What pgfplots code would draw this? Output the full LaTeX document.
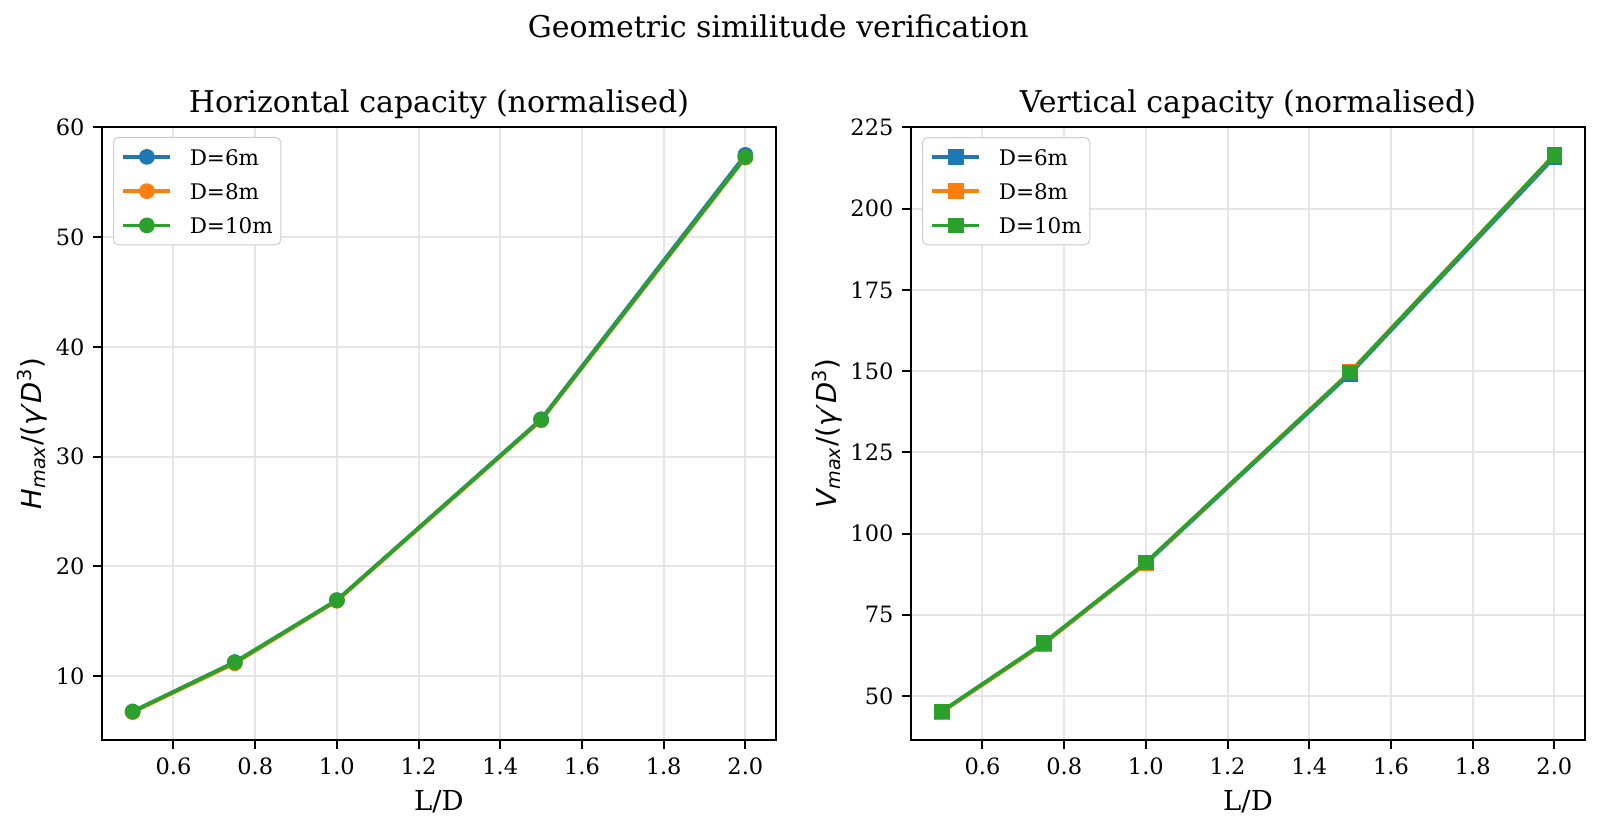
\documentclass[border=0pt]{standalone}
\usepackage{fontspec}
\setmainfont{DejaVu Serif}
\newfontfamily\dvs{DejaVu Sans}
\usepackage{pgfplots}
\pgfplotsset{compat=1.18}
\definecolor{c0}{HTML}{1F77B4}
\definecolor{c1}{HTML}{FF7F0E}
\definecolor{c2}{HTML}{2CA02C}

\pgfplotsset{
  every axis title/.style={at={(0.5,1)}, anchor=base, yshift=5.8pt, font=\fontsize{12}{14}\selectfont},
  myaxis/.style={
    scale only axis, width=269.6pt, height=245.2pt,
    anchor=south west,
    xmin=0.425, xmax=2.075,
    xtick={0.6,0.8,1.0,1.2,1.4,1.6,1.8,2.0},
    xticklabels={0.6,0.8,1.0,1.2,1.4,1.6,1.8,2.0},
    tick align=outside, major tick length=3.5pt,
    xtick pos=bottom, ytick pos=left,
    tick style={black, line width=0.8pt},
    axis line style={line width=0.8pt},
    grid=major, major grid style={line width=0.8pt, color=black!10},
    ticklabel style={font=\fontsize{9}{10}\selectfont},
    /pgf/number format/assume math mode=true,
    xlabel={L/D},
    xlabel style={at={(axis description cs:0.5,0)}, anchor=base, yshift=-28pt, font=\fontsize{11}{12}\selectfont},
    ylabel style={anchor=base, font=\fontsize{11}{12}\selectfont},
    legend style={at={(0,1)}, anchor=north west, xshift=4.4pt, yshift=-4pt,
      draw=black!20, rounded corners=2pt, fill=white,
      font=\fontsize{8.6}{10}\selectfont, inner xsep=3.2pt, inner ysep=4.5pt,
      row sep=7.2pt, column sep=7pt,
      nodes={inner sep=0pt, text height=6.5pt, text depth=0pt}},
    legend cell align=left,
    legend image code/.code={\draw[mark repeat=2, mark phase=2] plot coordinates {(0pt,0pt)(9.4pt,0pt)(18.8pt,0pt)};},
    every axis plot/.append style={line width=1.5pt},
  }
}

\begin{document}
\begin{tikzpicture}
\path[use as bounding box] (0,0) rectangle (640pt,332.4pt);

\node[anchor=base, font=\fontsize{12}{14}\selectfont] at (311.3pt,317.5pt) {Geometric similitude verification};

\begin{axis}[myaxis, at={(40.8pt,36.4pt)},
  ymin=4.16, ymax=60.04,
  ytick={10,20,30,40,50,60},
  title={Horizontal capacity (normalised)},
  ylabel={{\dvs\itshape H\textsubscript{max}\upshape/(\itshape γ′D\upshape\textsuperscript{3})}},
  ylabel style={at={(axis description cs:-0.0895,0.5)}},
]
\addplot[color=c0, mark=*, mark size=2.9pt, mark options={fill=c0, draw=c0, line width=0.5pt}] coordinates {
  (0.5,6.75) (0.75,11.25) (1.0,16.9) (1.5,33.4) (2.0,57.5)};
\addlegendentry{D=6m}
\addplot[color=c1, mark=*, mark size=2.9pt, mark options={fill=c1, draw=c1, line width=0.5pt}] coordinates {
  (0.5,6.7) (0.75,11.15) (1.0,16.85) (1.5,33.3) (2.0,57.25)};
\addlegendentry{D=8m}
\addplot[color=c2, mark=*, mark size=2.9pt, mark options={fill=c2, draw=c2, line width=0.5pt}] coordinates {
  (0.5,6.75) (0.75,11.25) (1.0,16.9) (1.5,33.35) (2.0,57.3)};
\addlegendentry{D=10m}
\end{axis}

\begin{axis}[myaxis, at={(364.4pt,36.4pt)},
  ymin=36.5, ymax=225.1,
  ytick={50,75,100,125,150,175,200,225},
  title={Vertical capacity (normalised)},
  ylabel={{\dvs\itshape V\textsubscript{max}\upshape/(\itshape γ′D\upshape\textsuperscript{3})}},
  ylabel style={at={(axis description cs:-0.110,0.5)}},
]
\addplot[color=c0, mark=square*, mark size=2.9pt, mark options={fill=c0, draw=c0, line width=0.5pt}] coordinates {
  (0.5,45.2) (0.75,66.2) (1.0,90.8) (1.5,149.2) (2.0,215.8)};
\addlegendentry{D=6m}
\addplot[color=c1, mark=square*, mark size=2.9pt, mark options={fill=c1, draw=c1, line width=0.5pt}] coordinates {
  (0.5,45.1) (0.75,66.1) (1.0,91.0) (1.5,149.7) (2.0,216.5)};
\addlegendentry{D=8m}
\addplot[color=c2, mark=square*, mark size=2.9pt, mark options={fill=c2, draw=c2, line width=0.5pt}] coordinates {
  (0.5,45.3) (0.75,66.4) (1.0,91.1) (1.5,149.6) (2.0,216.5)};
\addlegendentry{D=10m}
\end{axis}
\end{tikzpicture}
\end{document}
